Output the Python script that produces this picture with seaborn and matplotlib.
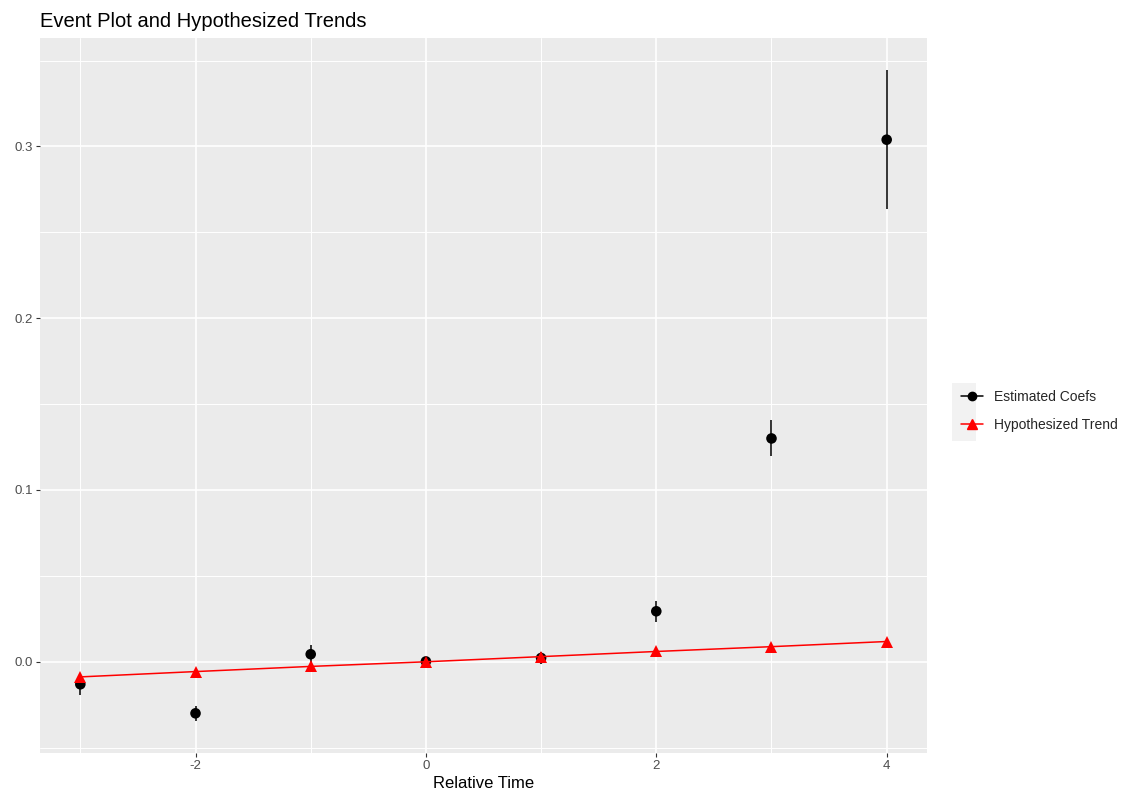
import numpy as np
import pandas as pd
import seaborn as sns
import matplotlib.pyplot as plt
from matplotlib.lines import Line2D
from matplotlib.patches import Rectangle
from matplotlib.ticker import MultipleLocator

# Data
rel_time = [-3, -2, -1, 0, 1, 2, 3, 4]
coef = [-0.0131, -0.0300, 0.0044, 0.0002, 0.0022, 0.0294, 0.1300, 0.3039]
ci_low = [-0.0192, -0.0342, -0.0008, 0.0002, -0.0014, 0.0233, 0.1196, 0.2634]
ci_high = [-0.0096, -0.0256, 0.0096, 0.0002, 0.0058, 0.0352, 0.1407, 0.3442]
trend = [-0.0088, -0.0057, -0.0027, 0.0, 0.0030, 0.0060, 0.0088, 0.0118]

df = pd.DataFrame({"time": rel_time, "coef": coef, "lo": ci_low,
                   "hi": ci_high, "trend": trend})

sns.set_theme(style="darkgrid", rc={
    "axes.facecolor": "#EBEBEB",
    "grid.color": "white",
    "axes.edgecolor": "#EBEBEB",
})
plt.rcParams["font.family"] = ["Liberation Sans", "DejaVu Sans"]

fig = plt.figure(figsize=(11.28, 8.02), dpi=100)
ax = fig.add_axes([40 / 1128, 1 - 753 / 802, 887 / 1128, 715 / 802])

# ggplot-like grid
ax.xaxis.set_major_locator(MultipleLocator(2))
ax.xaxis.set_minor_locator(MultipleLocator(1))
ax.yaxis.set_major_locator(MultipleLocator(0.1))
ax.yaxis.set_minor_locator(MultipleLocator(0.05))
ax.grid(which="major", color="white", linewidth=1.2)
ax.grid(which="minor", color="white", linewidth=0.7)
ax.set_axisbelow(True)
for s in ax.spines.values():
    s.set_visible(False)

# estimated coefficients with intervals
ax.vlines(df["time"], df["lo"], df["hi"], color="black", linewidth=1.1, zorder=3)
sns.scatterplot(data=df, x="time", y="coef", color="black", s=58,
                edgecolor="none", ax=ax, zorder=4)

# hypothesized trend (drawn on top, as in the reference)
sns.lineplot(data=df, x="time", y="trend", color="red", linewidth=1.1,
             marker="^", markersize=8, markeredgewidth=0, ax=ax, zorder=5)

ax.set_xlim(-3.35, 4.35)
ax.set_ylim(-0.0531, 0.3631)
ax.set_xticks([-2, 0, 2, 4])
ax.set_xticklabels(["-2", "0", "2", "4"])
ax.set_yticks([0.0, 0.1, 0.2, 0.3])
ax.set_yticklabels(["0.0", "0.1", "0.2", "0.3"])
ax.tick_params(axis="both", which="major", length=3, width=0.8, color="#333333",
               labelcolor="#4D4D4D", labelsize=9.5, pad=2, bottom=True, left=True)
ax.tick_params(axis="both", which="minor", length=0)

ax.set_xlabel("Relative Time", fontsize=12, color="black", labelpad=3)
ax.set_ylabel("")
ax.set_title("Event Plot and Hypothesized Trends", loc="left", fontsize=14.5,
             color="black", pad=8)
ax.title.set_position((-0.005, 1.0))

# legend
fig.patches.append(Rectangle((952 / 1128, 1 - 441 / 802), 24 / 1128, 58 / 802,
                             transform=fig.transFigure, facecolor="#F2F2F2",
                             edgecolor="none", zorder=0))
handles = [
    Line2D([], [], color="black", marker="o", markersize=6, linewidth=1.1),
    Line2D([], [], color="red", marker="^", markersize=7, linewidth=1.1),
]
fig.legend(handles, ["Estimated Coefs", "Hypothesized Trend"],
           loc="center left", bbox_to_anchor=(948 / 1128, 1 - 411 / 802),
           frameon=False, fontsize=10, handlelength=1.6, handletextpad=0.8,
           labelspacing=1.05)

fig.savefig("out.png", dpi=100)
